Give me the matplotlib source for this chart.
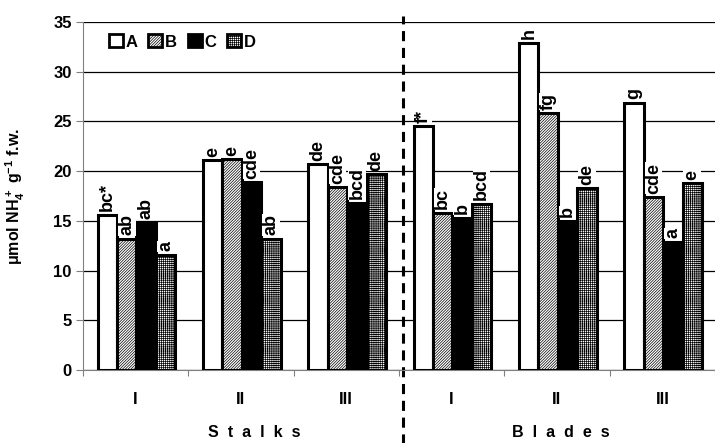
import numpy as np
import matplotlib
matplotlib.use('Agg')
import matplotlib.pyplot as plt
from matplotlib.patches import Patch
from matplotlib.lines import Line2D

plt.rcParams['font.family'] = ['Liberation Sans', 'DejaVu Sans']
plt.rcParams['font.weight'] = 'bold'
plt.rcParams['hatch.linewidth'] = 0.5
plt.rcParams['mathtext.fontset'] = 'custom'
plt.rcParams['mathtext.rm'] = 'Liberation Sans:bold'
plt.rcParams['mathtext.bf'] = 'Liberation Sans:bold'
plt.rcParams['mathtext.default'] = 'bf'

# ============================================================
# data
# ============================================================
groups  = ['I', 'II', 'III', 'I', 'II', 'III']
series  = ['A', 'B', 'C', 'D']
val_A   = [15.6, 21.1, 20.7, 24.5, 32.9, 26.9]
val_B   = [13.2, 21.2, 18.4, 15.8, 25.8, 17.4]
val_C   = [14.8, 18.9, 16.8, 15.3, 15.0, 12.9]
val_D   = [11.6, 13.2, 19.7, 16.7, 18.3, 18.8]
let_A   = ['bc*', 'e', 'de', 'f*', 'h', 'g']
let_B   = ['ab', 'e', 'cde', 'bc', 'fg', 'cde']
let_C   = ['ab', 'cde', 'bcd', 'b', 'b', 'a']
let_D   = ['a', 'ab', 'de', 'bcd', 'de', 'e']
parts   = ['S  t  a  l  k  s', 'B  l  a  d  e  s']

values  = [val_A, val_B, val_C, val_D]
letters = [let_A, let_B, let_C, let_D]
styles  = [dict(facecolor='white', hatch=None),
           dict(facecolor='white', hatch='/' * 12),
           dict(facecolor='black', hatch=None),
           dict(facecolor='white', hatch='+' * 8)]

fig = plt.figure(figsize=(7.15, 4.43), dpi=100)
ax = fig.add_axes([0.116, 0.1648, 0.884, 0.7855])

bw = 0.184
start = 0.14
x0 = np.arange(len(groups))
for i, (vals, labs, st) in enumerate(zip(values, letters, styles)):
    xs = x0 + start + bw * (i + 0.5)
    ax.bar(xs, vals, width=bw, edgecolor='black', linewidth=2.2,
           zorder=3, **st)
    for x, v, t in zip(xs, vals, labs):
        ax.text(x, v + 0.35, t, rotation=90, ha='center', va='bottom',
                fontsize=13, fontweight='bold', zorder=4,
                bbox=dict(facecolor='white', edgecolor='none', pad=0.3))

ax.set_xlim(0, 5.945)
ax.set_ylim(0, 35)
ax.set_yticks(np.arange(0, 36, 5))
ax.set_xticks(np.arange(0, 7))
ax.set_xticklabels([])
ax.set_xticks(x0 + 0.5, minor=True)
ax.set_xticklabels(groups, minor=True)
ax.tick_params(axis='x', which='minor', length=0, pad=16, labelsize=12)
ax.tick_params(axis='x', which='major', length=4, direction='out',
               color='gray')
ax.tick_params(axis='y', length=5, color='gray', labelsize=12, pad=3)
for lab in ax.get_xticklabels(minor=True) + ax.get_yticklabels():
    lab.set_fontweight('bold')

ax.yaxis.grid(True, color='black', linewidth=0.9, zorder=0)
ax.set_axisbelow(True)
for s in ['top', 'right']:
    ax.spines[s].set_visible(False)
ax.spines['left'].set_color('gray')
ax.spines['bottom'].set_color('gray')

ax.set_ylabel(r'μmol NH$_4^+$ g$^{-1}$ f.w.', fontsize=11.5,
              fontweight='bold')
ax.yaxis.set_label_coords(-0.088, 0.5)

# section labels
ax.text(1.63, -0.181, parts[0], transform=ax.get_xaxis_transform(),
        ha='center', va='center', fontsize=11.5, fontweight='bold')
ax.text(4.54, -0.181, parts[1], transform=ax.get_xaxis_transform(),
        ha='center', va='center', fontsize=11.5, fontweight='bold')

# dashed divider
ax.add_line(Line2D([3.04, 3.04], [-0.22, 1.017],
                   transform=ax.get_xaxis_transform(), color='black',
                   linewidth=2.2, linestyle=(0, (3.3, 2.2)), clip_on=False))

handles = [Patch(edgecolor='black', linewidth=2, **st) for st in styles]
ax.legend(handles, series, loc='center left', bbox_to_anchor=(0.025, 0.943),
          ncol=4, frameon=False, handlelength=0.85, handleheight=0.85,
          handletextpad=0.15, columnspacing=0.65, borderpad=0.1,
          prop=dict(weight='bold', size=12))

fig.savefig('out.png', dpi=100)
